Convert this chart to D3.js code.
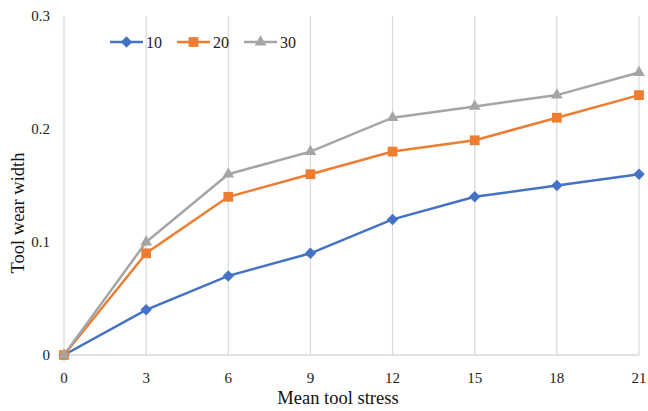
<!DOCTYPE html>
<html>
<head>
<meta charset="utf-8">
<script src="https://cdn.jsdelivr.net/npm/d3@7"></script>
<style>
  body { margin: 0; background: #fff; }
  svg { display: block; font-family: "Liberation Serif", "Times New Roman", serif; }
</style>
</head>
<body>
<div id="chart"></div>
<script>
const stress = [0, 3, 6, 9, 12, 15, 18, 21];
const wear10 = [0, 0.04, 0.07, 0.09, 0.12, 0.14, 0.15, 0.16];
const wear20 = [0, 0.09, 0.14, 0.16, 0.18, 0.19, 0.21, 0.23];
const wear30 = [0, 0.10, 0.16, 0.18, 0.21, 0.22, 0.23, 0.25];
const yTicks = [0, 0.1, 0.2, 0.3];

const series = [
  { name: "10", values: wear10, color: "#4472C4", symbol: d3.symbolSquare, size: 66, rotate: 45 },
  { name: "20", values: wear20, color: "#ED7D31", symbol: d3.symbolSquare, size: 95, rotate: 0 },
  { name: "30", values: wear30, color: "#A5A5A5", symbol: d3.symbolTriangle, size: 60, rotate: 0 }
];

const width = 648, height = 411;
const margin = { top: 16, right: 9, bottom: 56, left: 64 };

const svg = d3.select("#chart").append("svg")
  .attr("width", width)
  .attr("height", height);

const x = d3.scaleLinear().domain([0, 21]).range([margin.left, width - margin.right]);
const y = d3.scaleLinear().domain([0, 0.3]).range([height - margin.bottom, margin.top]);

// vertical gridlines
svg.append("g")
  .selectAll("line")
  .data(stress)
  .enter()
  .append("line")
  .attr("x1", d => x(d))
  .attr("x2", d => x(d))
  .attr("y1", y(0.3))
  .attr("y2", y(0))
  .attr("stroke", "#d9d9d9")
  .attr("stroke-width", 1.2);

// bottom axis line
svg.append("line")
  .attr("x1", x(0))
  .attr("x2", x(21))
  .attr("y1", y(0))
  .attr("y2", y(0))
  .attr("stroke", "#d9d9d9")
  .attr("stroke-width", 1.5);

// x tick labels
svg.append("g")
  .selectAll("text")
  .data(stress)
  .enter()
  .append("text")
  .attr("x", d => x(d))
  .attr("y", y(0) + 28)
  .attr("text-anchor", "middle")
  .style("font-size", "15px")
  .style("fill", "#222")
  .text(d => d);

// y tick labels
svg.append("g")
  .selectAll("text")
  .data(yTicks)
  .enter()
  .append("text")
  .attr("x", margin.left - 14)
  .attr("y", d => y(d) + 5)
  .attr("text-anchor", "end")
  .style("font-size", "15px")
  .style("fill", "#222")
  .text(d => d);

// axis titles
svg.append("text")
  .attr("x", 338)
  .attr("y", 404)
  .attr("text-anchor", "middle")
  .style("font-size", "18.5px")
  .style("fill", "#111")
  .text("Mean tool stress");

svg.append("text")
  .attr("transform", "translate(24, 213) rotate(-90)")
  .attr("text-anchor", "middle")
  .style("font-size", "18.5px")
  .style("fill", "#111")
  .text("Tool wear width");

const line = d3.line()
  .x((d, i) => x(stress[i]))
  .y(d => y(d));

series.forEach(s => {
  svg.append("path")
    .datum(s.values)
    .attr("d", line)
    .attr("fill", "none")
    .attr("stroke", s.color)
    .attr("stroke-width", 2.5);
});

series.forEach(s => {
  svg.append("g")
    .selectAll("path")
    .data(s.values)
    .enter()
    .append("path")
    .attr("transform", (d, i) => `translate(${x(stress[i])}, ${y(d)}) rotate(${s.rotate})`)
    .attr("d", d3.symbol().type(s.symbol).size(s.size))
    .attr("fill", s.color);
});

// legend
const legend = svg.append("g").attr("transform", "translate(110, 42)");
series.forEach((s, i) => {
  const g = legend.append("g").attr("transform", `translate(${i * 67}, 0)`);
  g.append("line")
    .attr("x1", 0).attr("x2", 33)
    .attr("y1", 0).attr("y2", 0)
    .attr("stroke", s.color)
    .attr("stroke-width", 2.5);
  g.append("path")
    .attr("transform", `translate(16.5, 0) rotate(${s.rotate})`)
    .attr("d", d3.symbol().type(s.symbol).size(s.size))
    .attr("fill", s.color);
  g.append("text")
    .attr("x", 36)
    .attr("y", 6)
    .style("font-size", "16px")
    .style("fill", "#222")
    .text(s.name);
});
</script>
</body>
</html>
